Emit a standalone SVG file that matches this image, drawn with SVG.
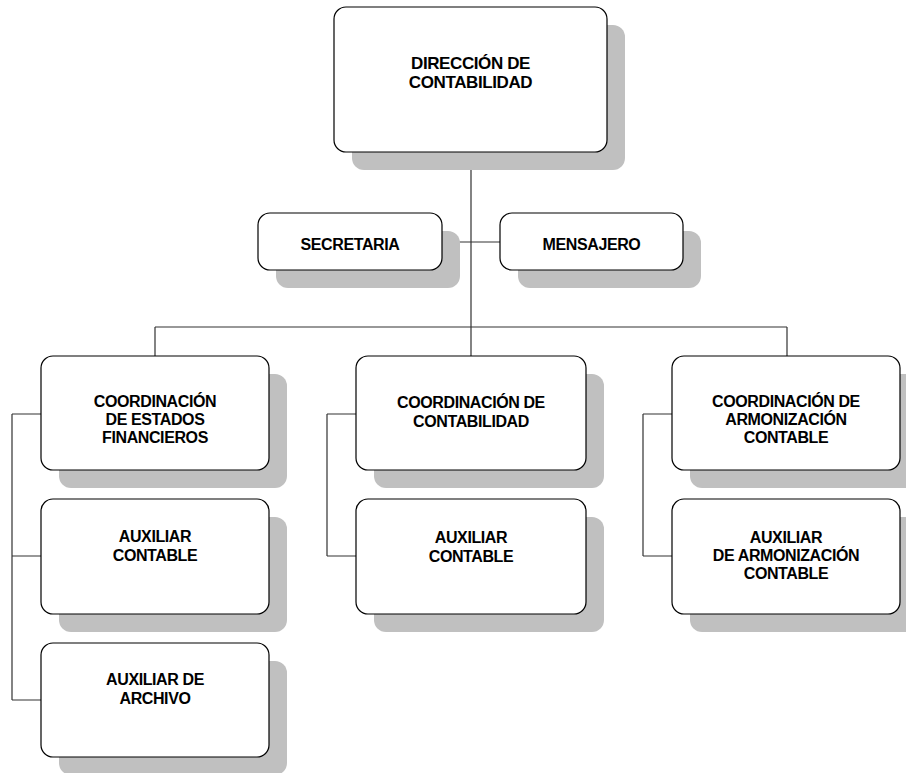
<svg xmlns="http://www.w3.org/2000/svg" width="906" height="773" viewBox="0 0 906 773">
<style>
.sh{fill:#c0c0c0;stroke:none}
.bx{fill:#ffffff;stroke:#000000;stroke-width:1.2}
.t{font-family:"Liberation Sans",Arial,sans-serif;font-weight:bold;font-size:16px;fill:#000;text-anchor:middle;letter-spacing:-0.4px}
.tt{font-size:17px}
.cn{stroke:#333333;stroke-width:1.2;fill:none}
</style>
<rect width="906" height="773" fill="#ffffff"/>
<g id="connectors">
<path class="cn" d="M471,152V356M442,242H500M155,327H787M155,327V356M787,327V356"/>
<path class="cn" d="M12,414V700M12,414H41M12,556H41M12,700H41"/>
<path class="cn" d="M327,414V556M327,414H356M327,556H356"/>
<path class="cn" d="M643,414V556M643,414H672M643,556H672"/>
</g>
<g id="direccion">
<rect class="sh" x="352" y="25" width="273" height="145" rx="12"/>
<rect class="bx" x="334" y="7" width="273" height="145" rx="12"/>
<text class="t tt" x="470.5" y="69">DIRECCIÓN DE</text>
<text class="t tt" x="470.5" y="88">CONTABILIDAD</text>
</g>
<g id="secretaria">
<rect class="sh" x="276" y="231" width="184" height="57" rx="12"/>
<rect class="bx" x="258" y="213" width="184" height="57" rx="12"/>
<text class="t" x="350" y="250">SECRETARIA</text>
</g>
<g id="mensajero">
<rect class="sh" x="518" y="231" width="183" height="57" rx="12"/>
<rect class="bx" x="500" y="213" width="183" height="57" rx="12"/>
<text class="t" x="591.5" y="250">MENSAJERO</text>
</g>
<g id="coord-estados">
<rect class="sh" x="59" y="374" width="228" height="114" rx="12"/>
<rect class="bx" x="41" y="356" width="228" height="114" rx="12"/>
<text class="t" x="155" y="407">COORDINACIÓN</text>
<text class="t" x="155" y="425">DE ESTADOS</text>
<text class="t" x="155" y="443">FINANCIEROS</text>
</g>
<g id="aux-contable-1">
<rect class="sh" x="59" y="517" width="228" height="115" rx="12"/>
<rect class="bx" x="41" y="499" width="228" height="115" rx="12"/>
<text class="t" x="155" y="542">AUXILIAR</text>
<text class="t" x="155" y="561">CONTABLE</text>
</g>
<g id="aux-archivo">
<rect class="sh" x="59" y="661" width="228" height="114" rx="12"/>
<rect class="bx" x="41" y="643" width="228" height="114" rx="12"/>
<text class="t" x="155" y="685">AUXILIAR DE</text>
<text class="t" x="155" y="704">ARCHIVO</text>
</g>
<g id="coord-contabilidad">
<rect class="sh" x="374" y="374" width="230" height="114" rx="12"/>
<rect class="bx" x="356" y="356" width="230" height="114" rx="12"/>
<text class="t" x="471" y="408">COORDINACIÓN DE</text>
<text class="t" x="471" y="427">CONTABILIDAD</text>
</g>
<g id="aux-contable-2">
<rect class="sh" x="374" y="517" width="230" height="115" rx="12"/>
<rect class="bx" x="356" y="499" width="230" height="115" rx="12"/>
<text class="t" x="471" y="543">AUXILIAR</text>
<text class="t" x="471" y="562">CONTABLE</text>
</g>
<g id="coord-armonizacion">
<rect class="sh" x="690" y="374" width="228" height="114" rx="12"/>
<rect class="bx" x="672" y="356" width="228" height="114" rx="12"/>
<text class="t" x="786" y="407">COORDINACIÓN DE</text>
<text class="t" x="786" y="425">ARMONIZACIÓN</text>
<text class="t" x="786" y="443">CONTABLE</text>
</g>
<g id="aux-armonizacion">
<rect class="sh" x="690" y="517" width="228" height="115" rx="12"/>
<rect class="bx" x="672" y="499" width="228" height="115" rx="12"/>
<text class="t" x="786" y="543">AUXILIAR</text>
<text class="t" x="786" y="561">DE ARMONIZACIÓN</text>
<text class="t" x="786" y="579">CONTABLE</text>
</g>
</svg>
